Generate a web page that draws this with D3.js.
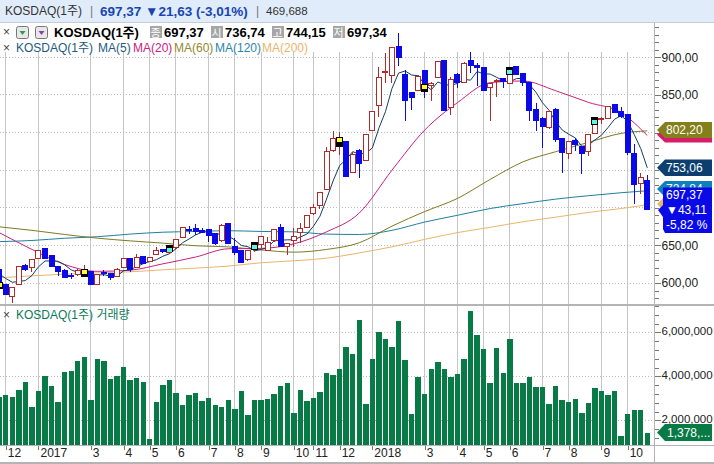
<!DOCTYPE html>
<html>
<head>
<meta charset="utf-8">
<script src="https://cdn.jsdelivr.net/npm/d3@7"></script>
<style>
  body { margin: 0; background: #fff; }
  text { font-family: 'Liberation Sans', 'Noto Sans CJK KR', sans-serif; font-size: 12px; }
</style>
</head>
<body>
<svg id="chart" width="714" height="464"></svg>
<script>
// weekly candles
const opens = [618,598.5,582.5,598,623.8,620.7,632,645.9,636.6,622.4,617.1,610.5,610.9,609.1,615.3,598,613.6,612.7,609.1,620.2,632.6,620.7,635.7,628.6,637.9,645,641,647.3,660.5,671.6,673,670.3,671.2,665.9,656.1,679.2,648.1,643.7,631.3,645,651.2,643.7,656.1,673.9,648.1,657,666.8,673.9,692.5,703.1,724.4,775.8,781,788.2,746.6,776.7,762.5,802.4,835.7,880,876,915,876.5,853.8,855.6,881.8,862.3,873.4,895.1,833.5,877.8,866.7,895.1,888.9,886.7,860,869,872,865.4,888.4,878.7,866.7,831.2,819.3,806.4,831.2,792.2,772.3,790,781.1,774.9,798.9,818.3,818.8,837.4,828.1,824.6,772.3,732.4,736.74];
const highs = [620,599,595,622,625,632,643.7,646.5,637,623,618,613.6,618,623.8,616,612,617.1,613,619.3,633,633,637.9,636,634,648.1,645.5,651,658.5,674.5,675.6,678.3,672.5,672,666.5,678,680,659.2,644,644.5,654,662,660.5,672,678.3,653,672.5,679.2,691,704.9,721,781.1,802.4,800.2,789,774.5,777.5,798,829,886.6,905.3,914,931.9,883.1,854.5,876,882.5,867,895.5,896,873.4,878.5,893.3,906.6,892,887.5,866,870.7,872.5,886.6,889,879,867,838.8,820,829,832,793,789,792.2,782,798.5,820,820.2,835.7,838,833.4,825,784.2,745.7,744.15];
const lows = [595,585,574,598,615.8,615,631.3,633,621,609.1,606,604.7,609,608,598,598,609.1,603.8,607.4,620,614.9,620,625,628,637,639.3,639,644.6,660,664.5,664.1,665.9,654.8,650.4,655,652,637,627,629.5,641.5,645.9,642.8,654.8,648,637.5,647.3,652.6,673,690.3,697.8,724,774.5,770.5,742,746,739.9,762,802,821,865.4,865.4,888.9,815.7,829.9,855,846.3,842.3,873,829,823.3,858.7,866,879.6,861.8,855,815.7,847.6,859.6,865,877,862.3,815.7,802.4,779.8,804.6,786.9,745.7,764.3,775.8,744.3,769.2,797.5,811.3,817.5,827,819.7,769.6,705.3,718.2,697.34];
const closes = [598,585,594,621.5,618,631.3,642.8,633,621.5,615.8,607.4,609.1,617.1,617,598,611.3,612.2,606.9,618,632.6,618,633.5,626,633.5,643.7,641.5,650,657.9,673.9,669.4,668.5,667.6,663.2,652.6,677,652.6,640.2,627.3,643.7,650,661.4,653.5,671.2,648.1,652.6,661.4,672.5,690.3,700.4,720,774.9,792.2,793,742.1,770.9,759,797.5,828.1,873.4,880.6,913.2,899.5,842.3,846.8,875.1,854.3,865.4,894.6,829,870.7,867.1,892,889.3,886.2,855.6,865.4,869.8,867.6,877.8,877.8,866.3,829,816.6,807.7,828.1,790.9,773.6,788.2,783.8,771.8,797.5,810.4,819,834.3,827.2,821,774,730.6,740.4,697.37];

// weekly volume, millions
const volumes = [3.06,3.15,3.06,3.38,3.74,2.61,3.33,4.02,3.56,2.83,4.20,4.24,4.70,4.88,2.92,4.79,4.70,3.88,4.02,4.42,3.83,3.92,3.74,1.15,2.83,3.61,3.83,3.24,2.70,3.15,3.24,2.88,3.02,2.70,2.61,2.92,2.52,3.33,2.24,2.92,2.92,2.97,3.20,3.56,3.70,2.33,3.38,2.88,3.02,3.29,4.15,4.06,4.33,5.33,5.02,6.56,2.74,4.79,6.02,5.70,5.33,6.52,4.74,2.29,3.97,3.20,4.33,4.65,4.33,3.97,4.11,4.79,6.97,5.88,5.24,3.70,5.29,4.15,5.70,3.70,3.70,3.97,3.52,3.52,2.74,3.56,2.92,2.83,2.97,2.33,2.79,3.47,3.33,3.15,3.33,1.29,2.29,2.47,2.47,1.42];

// moving averages. MA5 has a reading for every candle, the slow ones for every fifth
const ma5 = [612,606,601,602,603.3,610,621.5,629.3,629.3,628.9,624.1,617.4,614.2,613.3,609.7,610.5,611.1,609.1,609.3,616.2,617.5,621.8,625.6,628.7,630.9,635.6,638.9,645.3,653.4,658.5,663.9,667.5,668.5,664.3,665.8,662.6,657.1,649.9,648.2,642.8,644.5,647.2,656,656.8,657.4,657.4,661.2,665,675.4,688.9,711.6,735.6,756.1,764.4,774.6,771.4,772.5,779.5,805.8,827.7,858.6,879,881.8,876.5,875.4,863.6,856.8,867.2,863.7,862.8,865.4,870.7,869.6,881.1,878,877.7,873.3,868.9,867.2,871.7,871.9,863.7,853.5,839.5,829.5,814.5,803.4,797.7,792.9,781.7,783,790.3,796.5,806.6,817.7,822.4,815.1,797.4,778.6,753.06];
const slowIdx = [0,5,10,15,20,25,30,35,40,45,50,55,60,65,70,75,80,85,90,95,99];
const ma20 = [667,644.6,624.6,615.5,617,625.5,634.5,645.5,646,652,668,693,750,803.3,839.7,866.3,868.5,855.6,840.1,826.4,796];
const ma60 = [674.7,670,664.5,659.6,656,653,649.5,648,644,641,644.6,653.5,675.6,695,712.4,737.7,761,774.5,786.9,798.9,802.2];
const ma120 = [655,656.5,659.5,661.5,665,667.5,668.5,669.5,668.5,668,665,664.5,670,681,690,699,705.5,711.5,716,720,722.6];
const ma200 = [607,609.5,611.8,613.5,614.9,617.5,619.8,622.5,626.9,629.5,633,640,648.1,658,667,674,681.4,687.5,693.8,699,704];

// month ticks on the candle index
const tickIdx = [1,6,14,19,23,27,32,36,40,45,48,52,57,65,70,74,78,83,87,92,96];
const tickLabels = ['12','2017','3','4','5','6','7','8','9','10','11','12','2018','3','4','5','6','7','8','9','10'];

// quarter markers painted over the candle body
const markIdx = [0,13,26,39,52,65,78,91];
const markTop = [601.6,618.9,649.9,653.9,794.4,864.5,886.6,820.2];
const markBottom = [591.4,608.2,641,643.7,781.1,854.3,876.5,810.4];
const markColor = ['#ffff33','#ffff33','#66f0e0','#66f0e0','#ffff33','#ffff33','#66f0e0','#66f0e0'];

const priceMajor = [600,650,700,750,800,850,900];
const priceLabelled = [600,650,850,900];  // the rest sit behind the value tags
const priceMinor = d3.range(580, 950, 10);
const volMajor = [2,4,6];
const volMinor = d3.range(1.2, 7.3, 0.4);

const svg = d3.select('#chart');
const plotRight = 654.5;

const x = d3.scaleLinear().domain([0, 99]).range([-0.78, 647.3]);
const yPrice = d3.scaleLinear().domain([600, 900]).range([283, 57.3]);
const yVol = d3.scaleLinear().domain([2, 6]).range([420.3, 332.3]);

const defs = svg.append('defs');
defs.append('clipPath').attr('id', 'pricePane').append('rect')
  .attr('x', 0).attr('y', 23).attr('width', plotRight).attr('height', 281);

// header band
svg.append('rect').attr('width', 714).attr('height', 22).attr('fill', '#e1ecfa');
svg.append('line').attr('x1', 0).attr('x2', 714).attr('y1', 22.5).attr('y2', 22.5).attr('stroke', '#c4ccd6');

// grid
const grid = svg.append('g').attr('shape-rendering', 'crispEdges');
grid.selectAll('.vgrid').data(tickIdx).join('line')
  .attr('x1', d => x(d)).attr('x2', d => x(d))
  .attr('y1', 52).attr('y2', 445)
  .attr('stroke', '#c6c6c6');
grid.selectAll('.pgrid').data(priceMajor).join('line')
  .attr('x1', 0).attr('x2', plotRight)
  .attr('y1', d => yPrice(d)).attr('y2', d => yPrice(d))
  .attr('stroke', '#bbb').attr('stroke-dasharray', '1,2');
grid.selectAll('.vol-grid').data(volMajor).join('line')
  .attr('x1', 0).attr('x2', plotRight)
  .attr('y1', d => yVol(d)).attr('y2', d => yVol(d))
  .attr('stroke', '#bbb').attr('stroke-dasharray', '1,2');

// volume bars
svg.append('g').attr('shape-rendering', 'crispEdges')
  .selectAll('rect').data(volumes).join('rect')
  .attr('x', (d, i) => x(i) - 2.7)
  .attr('width', 5.4)
  .attr('y', d => yVol(d))
  .attr('height', d => 445 - yVol(d))
  .attr('fill', '#087a45');

// moving averages under the candles
const pricePane = svg.append('g').attr('clip-path', 'url(#pricePane)');
const slowLine = d3.line().x((d, i) => x(slowIdx[i])).y(d => yPrice(d)).curve(d3.curveMonotoneX);
const maLines = [[ma200, '#e8b56c'], [ma120, '#1f7f9f'], [ma60, '#7d7a22'], [ma20, '#c8207f']];
maLines.forEach(([vals, color]) => {
  pricePane.append('path').attr('d', slowLine(vals))
    .attr('fill', 'none').attr('stroke', color).attr('stroke-width', 1);
});
const fastLine = d3.line().x((d, i) => x(i)).y(d => yPrice(d));
pricePane.append('path').attr('d', fastLine(ma5))
  .attr('fill', 'none').attr('stroke', '#123e63').attr('stroke-width', 1);

// candles
const upColor = '#b02a2a';
const downColor = '#0a0ae6';
const candles = pricePane.append('g').attr('shape-rendering', 'crispEdges')
  .selectAll('g').data(closes).join('g');
candles.append('line')
  .attr('x1', (d, i) => x(i)).attr('x2', (d, i) => x(i))
  .attr('y1', (d, i) => yPrice(highs[i])).attr('y2', (d, i) => yPrice(lows[i]))
  .attr('stroke', (d, i) => d >= opens[i] ? upColor : downColor);
candles.append('rect')
  .attr('x', (d, i) => x(i) - 2.5)
  .attr('width', 5)
  .attr('y', (d, i) => yPrice(Math.max(opens[i], d)))
  .attr('height', (d, i) => Math.max(1, Math.abs(yPrice(opens[i]) - yPrice(d))))
  .attr('fill', (d, i) => d >= opens[i] ? '#fff' : downColor)
  .attr('stroke', (d, i) => d >= opens[i] ? upColor : downColor);

// quarter markers: yellow ones sit on top of the black block, cyan ones lower in it
const marks = pricePane.append('g').attr('shape-rendering', 'crispEdges')
  .selectAll('g').data(markIdx).join('g');
marks.append('rect')
  .attr('x', d => x(d) - 3.5).attr('width', 7)
  .attr('y', (d, i) => yPrice(markTop[i]))
  .attr('height', (d, i) => yPrice(markBottom[i]) - yPrice(markTop[i]))
  .attr('fill', '#000');
marks.append('rect')
  .attr('x', d => x(d) - 2.5).attr('width', 5)
  .attr('y', (d, i) => yPrice(markTop[i]) + (markColor[i] === '#ffff33' ? 1 : 3))
  .attr('height', 4)
  .attr('fill', (d, i) => markColor[i]);

// axes
const commaFmt = d => d3.format('.2f')(d).replace('.', ',');
const axisStyle = g => {
  g.selectAll('path, line').attr('stroke', '#777').attr('shape-rendering', 'crispEdges');
  g.selectAll('text').attr('fill', '#222').attr('font-family', null).attr('font-size', null);
};
const rightAxis = svg.append('g').attr('class', 'right-axes');
rightAxis.append('g').attr('transform', `translate(${plotRight},0)`)
  .call(d3.axisRight(yPrice).tickValues(priceMinor).tickSize(4).tickFormat('').tickSizeOuter(0))
  .call(g => g.select('.domain').remove())
  .call(axisStyle);
rightAxis.append('g').attr('transform', `translate(${plotRight},0)`)
  .call(d3.axisRight(yPrice).tickValues(priceLabelled).tickSize(6).tickPadding(1).tickFormat(commaFmt).tickSizeOuter(0))
  .call(g => g.select('.domain').remove())
  .call(axisStyle);
rightAxis.append('g').attr('transform', `translate(${plotRight},0)`)
  .call(d3.axisRight(yVol).tickValues(volMinor).tickSize(4).tickFormat('').tickSizeOuter(0))
  .call(g => g.select('.domain').remove())
  .call(axisStyle);
const volAxis = rightAxis.append('g').attr('transform', `translate(${plotRight},0)`)
  .call(d3.axisRight(yVol).tickValues(volMajor).tickSize(6).tickPadding(1)
    .tickFormat(d => d3.format(',')(d * 1000000)).tickSizeOuter(0))
  .call(g => g.select('.domain').remove())
  .call(axisStyle);
volAxis.selectAll('text').style('font-size', '11.5px').attr('dy', '0.2em');

const xAxis = svg.append('g').attr('transform', 'translate(0,445)')
  .call(d3.axisBottom(x).tickValues(tickIdx).tickSize(5).tickSizeOuter(0)
    .tickFormat((d, i) => tickLabels[i]))
  .call(g => g.select('.domain').remove())
  .call(axisStyle);
xAxis.selectAll('text').attr('text-anchor', 'start').attr('dx', 1.5).attr('y', 3).attr('dy', '0.78em');

// pane frames
const frames = svg.append('g').attr('shape-rendering', 'crispEdges').attr('stroke', '#b4b4b4');
frames.append('line').attr('x1', 0).attr('x2', 714).attr('y1', 305).attr('y2', 305).attr('stroke-width', 2);
frames.append('line').attr('x1', 0).attr('x2', 714).attr('y1', 445).attr('y2', 445);
frames.append('line').attr('x1', 0).attr('x2', 714).attr('y1', 463).attr('y2', 463).attr('stroke-width', 2);
frames.append('line').attr('x1', plotRight).attr('x2', plotRight).attr('y1', 23).attr('y2', 462);

// value tags at the right edge
const tag = (top, bottom, color) => {
  const mid = (top + bottom) / 2;
  svg.append('path')
    .attr('d', `M657,${mid}L665,${top}H712V${bottom}H665Z`)
    .attr('fill', color);
};
const tagText = (px, py, str, color) => svg.append('text')
  .attr('x', px).attr('y', py).attr('fill', color || '#fff').text(str);

tag(127, 142.5, '#d81b6a');
tag(122, 138, '#83801a');
tagText(666, 134, '802,20');
tag(159.5, 176, '#0c3f70');
tagText(666, 172, '753,06');
tag(181, 197, '#0f80b8');
tagText(666, 193, '724,84');
tag(196, 212, '#e8b56c');
svg.append('path')
  .attr('d', 'M663,187.5H712V233H665L663,229V217L658,210L663,205Z')
  .attr('fill', '#0a0ae6');
tagText(666, 199, '697,37');
tagText(666, 214, '▼43,11');
tagText(666, 229, '-5,82 %');
tag(424, 441, '#087a45');
tagText(667, 437, '1,378,...');

// header row
tagText(5, 15, 'KOSDAQ(1주)', '#333');
tagText(90, 15, '|', '#777');
tagText(100, 15.5, '697,37 ▼21,63 (-3,01%)', '#1746b0').attr('font-weight', 'bold').style('font-size', '13.5px');
tagText(256, 15, '|', '#777');
tagText(266, 15, '469,688', '#333').style('font-size', '11.5px');

// quote row
const closeMark = (py) => svg.append('text').attr('x', 3).attr('y', py).attr('fill', '#444').text('×');
closeMark(36); closeMark(52); closeMark(319);
const button = (bx, color, path) => {
  svg.append('rect').attr('x', bx).attr('y', 26.5).attr('width', 12).attr('height', 12).attr('rx', 2)
    .attr('fill', '#e8e8e8').attr('stroke', '#777');
  svg.append('path').attr('d', `M${bx + 3},${path}h6l-3,4z`).attr('fill', color);
};
button(16.5, '#2d9a4e', 31);
button(35.5, '#8a3fb0', 31);
tagText(54, 37, 'KOSDAQ(1주)', '#000').attr('font-weight', 'bold').style('font-size', '13px');

const quoteBadges = ['종', '시', '고', '저'];
const quoteX = [150, 211, 272, 333];
const quoteVals = ['697,37', '736,74', '744,15', '697,34'];
quoteBadges.forEach((b, i) => {
  svg.append('rect').attr('x', quoteX[i]).attr('y', 26).attr('width', 12).attr('height', 12).attr('fill', '#a6a6a6');
  svg.append('text').attr('x', quoteX[i] + 0.5).attr('y', 36.5).attr('fill', '#fff').style('font-size', '11px').text(b);
  tagText(quoteX[i] + 14, 37, quoteVals[i], '#000').attr('font-weight', 'bold').style('font-size', '13px');
});

// legend row
const legendNames = ['KOSDAQ(1주)', 'MA(5)', 'MA(20)', 'MA(60)', 'MA(120)', 'MA(200)'];
const legendX = [16, 98, 133, 174, 215, 262];
const legendColors = ['#1d5a80', '#1d5a80', '#c8207f', '#8f8a2b', '#2a86a8', '#e8b56c'];
legendNames.forEach((n, i) => tagText(legendX[i], 52, n, legendColors[i]));
tagText(16, 319, 'KOSDAQ(1주) 거래량', '#0b7a58');
</script>
</body>
</html>
